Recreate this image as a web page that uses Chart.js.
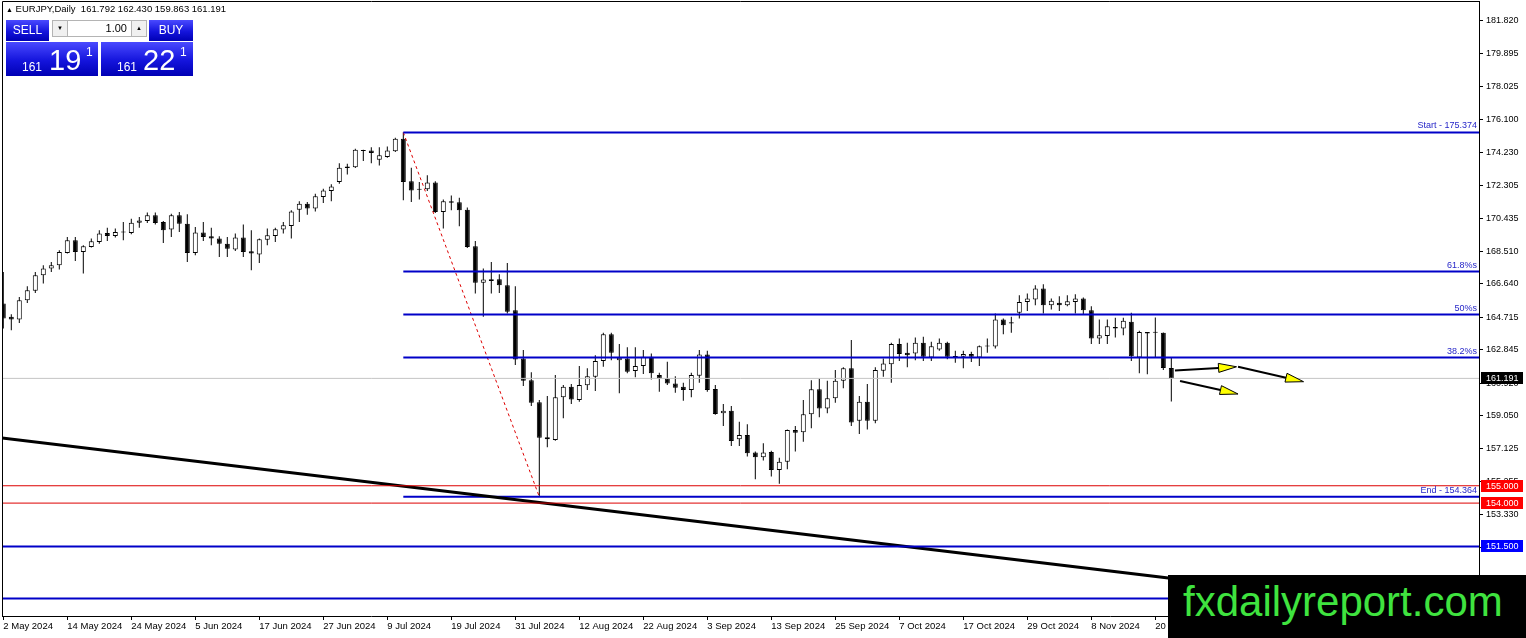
<!DOCTYPE html>
<html><head><meta charset="utf-8">
<script src="https://cdn.jsdelivr.net/npm/chart.js@4.4.1/dist/chart.umd.min.js"></script>
<style>
html,body{margin:0;padding:0;background:#fff;overflow:hidden}
#wrap{position:relative;width:1526px;height:638px;font-family:"Liberation Sans",Arial,sans-serif}
#c{position:absolute;left:0;top:0}
#hdr{position:absolute;left:6px;top:3px;font-size:9.5px;line-height:12px;color:#000;white-space:pre}
.bb{position:absolute;color:#fff;text-align:center;background:linear-gradient(#4a4aff,#1414dc 55%,#0000b4)}
.btn{font-size:12px;line-height:21px;height:21px;top:20px}
.spin{position:absolute;top:20px;width:16px;height:17px;background:#f0f0f0;border:1px solid #b4b4b4;box-sizing:border-box;font-size:6px;line-height:15px;text-align:center;color:#000}
#lot{position:absolute;left:68px;top:20px;width:63px;height:17px;background:#fff;border-top:1px solid #b4b4b4;border-bottom:1px solid #b4b4b4;box-sizing:border-box;font-size:11px;line-height:15px;text-align:right;padding-right:4px;color:#000}
.pbox{top:42px;height:34px;width:92px}
.pbox span{position:absolute;line-height:1}
.sm{font-size:12px;top:19px}
.bg{font-size:29px;top:4px}
.sp{font-size:12px;top:4px}
#logo{position:absolute;left:1168px;top:575px;width:358px;height:63px;background:#000;overflow:hidden}
#logo span{position:absolute;left:15px;top:6px;font-size:42px;line-height:42px;color:#3fe33f;white-space:nowrap}
</style></head><body>
<div id="wrap">
<canvas id="c" width="1526" height="638"></canvas>
<div id="hdr"><span style="font-size:7px">▲</span> EURJPY,Daily  161.792 162.430 159.863 161.191</div>
<div class="bb btn" style="left:6px;width:43px">SELL</div>
<div class="spin" style="left:52px">▼</div>
<div id="lot">1.00</div>
<div class="spin" style="left:131px">▲</div>
<div class="bb btn" style="left:149px;width:44px">BUY</div>
<div class="bb pbox" style="left:6px"><span class="sm" style="left:16px">161</span><span class="bg" style="left:43px">19</span><span class="sp" style="left:80px">1</span></div>
<div class="bb pbox" style="left:101px"><span class="sm" style="left:16px">161</span><span class="bg" style="left:42px">22</span><span class="sp" style="left:79px">1</span></div>
<div id="logo"><span>fxdailyreport.com</span></div>
</div>
<script>
// ---- Daily candles EURJPY (2 May 2024 .. 22 Nov 2024) ----
const opens = [165.51,164.74,164.59,165.70,166.24,167.14,167.52,167.71,168.42,169.15,
168.48,168.77,169.06,169.57,169.40,169.60,169.57,170.17,170.26,170.59,
170.21,169.77,170.59,170.11,168.42,169.60,169.38,169.25,168.96,168.62,
169.31,168.52,168.33,169.19,169.40,169.77,169.98,170.92,171.26,170.98,
171.65,172.00,172.51,173.41,173.37,174.35,174.33,173.80,173.95,174.29,
175.01,172.55,172.13,172.09,172.48,170.78,171.40,171.34,170.92,168.81,
166.70,166.91,166.91,166.56,165.12,162.34,161.09,159.81,157.79,157.64,
160.10,160.71,159.94,160.79,161.28,162.19,163.74,162.24,162.34,161.61,
161.90,162.44,161.38,161.19,160.90,160.71,160.52,161.34,162.57,160.58,
159.18,159.33,157.68,157.93,156.91,156.64,156.95,155.91,156.39,158.21,
158.08,159.12,160.56,159.46,160.04,161.05,161.77,158.75,159.84,158.75,
161.63,162.01,163.17,162.67,162.63,163.25,162.40,162.86,163.24,162.48,
162.44,162.59,162.40,163.05,163.03,164.59,164.42,164.97,165.60,165.74,
166.37,165.41,165.55,165.41,165.60,165.80,165.12,163.49,163.64,164.16,
164.07,164.45,162.40,163.86,163.82,163.82,161.792];
const highs = [167.33,164.89,165.89,166.50,167.33,167.71,167.90,168.58,169.34,169.34,
168.87,169.25,169.73,169.88,169.83,170.21,170.40,170.49,170.75,170.75,
170.26,170.69,170.78,170.65,169.92,170.21,169.88,169.38,169.34,169.54,
170.07,169.73,169.25,169.83,169.88,170.21,170.88,171.40,171.36,171.84,
172.13,172.38,173.60,173.57,174.43,174.37,174.52,174.52,174.56,175.07,
175.374,173.34,172.51,172.90,172.55,171.50,171.74,171.61,171.04,169.11,
167.52,167.90,167.20,167.85,166.51,162.82,161.54,159.94,160.17,161.38,
160.81,160.86,161.90,161.77,162.53,163.82,163.82,163.17,162.98,162.98,
162.82,162.63,161.52,162.15,161.32,160.94,161.52,162.82,162.78,160.81,
159.71,159.60,158.69,158.54,156.97,157.45,157.02,156.62,158.25,158.44,
159.94,161.09,161.19,161.05,161.67,161.83,163.40,160.17,160.86,161.83,
162.34,163.25,163.49,163.25,163.55,163.59,163.30,163.49,163.30,162.78,
162.78,162.72,163.08,163.49,164.93,164.65,164.74,165.99,166.08,166.56,
166.62,165.80,165.93,165.99,166.04,165.86,165.35,164.59,164.59,164.68,
164.68,164.97,163.93,163.87,164.70,163.84,162.430];
const lows = [164.07,163.97,164.39,165.54,166.12,166.66,167.33,167.47,168.39,167.96,
167.24,168.73,168.96,169.11,169.31,169.15,169.50,169.88,170.15,170.07,
169.00,169.34,169.63,167.90,168.29,169.11,168.87,168.19,168.19,168.54,
168.19,167.43,167.85,168.87,169.05,169.54,169.25,170.21,170.63,170.82,
171.30,171.40,172.42,172.95,173.32,173.72,173.60,173.47,173.91,174.24,
171.46,171.36,171.50,171.99,170.72,169.83,170.88,169.96,168.71,166.08,
164.74,166.08,166.12,164.93,161.96,160.75,159.60,154.364,157.22,157.60,
158.89,159.71,159.84,160.52,160.47,161.86,162.24,160.33,161.48,161.25,
161.44,161.13,160.42,160.81,160.36,159.90,160.10,160.94,160.42,159.10,
158.44,157.29,157.29,156.68,155.38,156.45,155.53,155.11,155.95,156.97,
157.54,158.31,158.95,159.18,159.79,160.62,158.45,157.98,158.25,158.60,
161.28,160.94,162.20,161.83,162.24,162.20,162.20,162.78,162.29,162.09,
161.77,162.14,161.90,162.67,162.92,163.74,163.82,164.65,165.08,165.41,
164.93,165.16,165.08,165.35,164.93,164.89,163.17,163.17,163.17,163.55,
163.68,162.20,161.48,161.43,162.40,161.67,159.863];
const closes = [164.64,164.59,165.70,166.27,167.14,167.52,167.71,168.48,169.15,168.48,
168.81,169.10,169.54,169.40,169.63,169.62,170.17,170.30,170.59,170.15,
169.73,170.59,170.11,168.42,169.60,169.34,169.25,168.96,168.67,169.31,
168.48,168.39,169.21,169.44,169.79,170.02,170.82,171.26,170.98,171.69,
172.03,172.26,173.34,173.32,174.37,174.30,174.18,174.05,174.33,175.01,
172.51,172.03,172.07,172.48,170.78,171.40,171.32,170.88,168.77,166.70,
166.89,166.81,166.56,165.03,162.28,161.05,159.79,157.77,157.68,160.10,
160.71,159.98,160.81,161.32,162.19,163.74,162.67,162.38,161.57,161.90,
162.44,161.48,161.19,160.90,160.65,160.52,161.38,162.57,160.52,159.14,
159.33,157.58,157.93,156.87,156.64,156.91,155.91,156.39,158.21,158.06,
159.12,160.56,159.46,160.04,161.05,161.77,158.64,159.84,158.75,161.67,
162.05,163.17,162.59,162.53,163.25,162.44,163.05,163.24,162.44,162.40,
162.59,162.44,163.05,163.03,164.59,164.26,164.36,165.60,165.80,166.37,
165.41,165.66,165.41,165.64,165.80,165.12,163.49,163.68,164.20,164.07,
164.51,162.47,163.87,163.78,163.82,161.79,161.191];

// ---- axis labels ----
const xTickBars = [0,8,16,24,32,40,48,56,64,72,80,88,96,104,112,120,128,136,144];
const xTickLabels = ['2 May 2024','14 May 2024','24 May 2024','5 Jun 2024','17 Jun 2024','27 Jun 2024','9 Jul 2024','19 Jul 2024','31 Jul 2024','12 Aug 2024','22 Aug 2024','3 Sep 2024','13 Sep 2024','25 Sep 2024','7 Oct 2024','17 Oct 2024','29 Oct 2024','8 Nov 2024','20 Nov 2024'];
const yTickValues = [181.820,179.895,178.025,176.100,174.230,172.305,170.435,168.510,166.640,164.715,162.845,160.920,159.050,157.125,155.255,153.330,151.460,149.535];

// ---- drawn objects ----
const fibStartBar = 50, fibEndBar = 67;
const fibLevels = [175.374,167.348,164.869,162.390,154.364];
const fibLabels = ['Start - 175.374','61.8%s','50%s','38.2%s','End - 154.364'];
const redLevels = [155.000,154.000];
const blueLevels = [151.500,148.500];
const lastPrice = 161.191;
const trendFrom = 157.75, trendTo = 147.53;
const arrowFromBar = [146.46,154.34,147.09];
const arrowFromPrice = [161.64,161.86,161.04];
const arrowToBar = [154.15,162.53,154.34];
const arrowToPrice = [161.86,161.00,160.29];
const axisBoxes = [[161.191,'#000000'],[155.000,'#ff0000'],[154.000,'#ff0000'],[151.500,'#0000ff']];

const xMin = -0.1625, xMax = 184.46, yMin = 147.49, yMax = 182.95;
const FONT = '"Liberation Sans", Arial, sans-serif';
Chart.defaults.font.family = FONT;

const bodyData = opens.map((o,i)=>({x:i,y:[Math.min(o,closes[i]),Math.max(o,closes[i])]}));
const wickData = highs.map((h,i)=>({x:i,y:[lows[i],h]}));
const bodyFill = opens.map((o,i)=> closes[i] >= o ? '#ffffff' : '#000000');

function lineDs(pts,color,width,dash){
  return {type:'line',data:pts,borderColor:color,borderWidth:width,borderDash:dash||[],
    pointRadius:0,fill:false,tension:0,order:0};
}
const datasets = [];
datasets.push(lineDs([{x:xMin,y:lastPrice},{x:xMax,y:lastPrice}],'#c4c4c4',1));
redLevels.forEach(v=>datasets.push(lineDs([{x:xMin,y:v},{x:xMax,y:v}],'#dd0000',1)));
blueLevels.forEach(v=>datasets.push(lineDs([{x:xMin,y:v},{x:xMax,y:v}],'#0000c8',2)));
datasets.push(lineDs([{x:xMin,y:trendFrom},{x:xMax,y:trendTo}],'#000000',3));
fibLevels.forEach(v=>datasets.push(lineDs([{x:fibStartBar,y:v},{x:xMax,y:v}],'#0000c8',2)));
datasets.push(lineDs([{x:fibStartBar,y:fibLevels[0]},{x:fibEndBar,y:fibLevels[4]}],'#dd0000',1,[3,3]));
datasets.push({type:'bar',data:bodyData,backgroundColor:bodyFill,borderColor:'#000',borderWidth:1,
  borderSkipped:false,barThickness:5,minBarLength:1,grouped:false,inflateAmount:0,order:1});
datasets.push({type:'bar',data:wickData,backgroundColor:'#000',borderWidth:0,
  barThickness:1,grouped:false,inflateAmount:0,order:2});

const overlay = {
  id:'overlay',
  afterDraw(chart){
    const {ctx, chartArea:a, scales:{x,y}} = chart;
    ctx.save();
    ctx.strokeStyle='#000'; ctx.lineWidth=1;
    ctx.beginPath(); ctx.moveTo(a.left+0.5,a.bottom); ctx.lineTo(a.left+0.5,a.top+0.5); ctx.lineTo(a.right,a.top+0.5); ctx.stroke();
    // fib labels
    ctx.font='9px '+FONT; ctx.fillStyle='#2626c8'; ctx.textAlign='right'; ctx.textBaseline='bottom';
    fibLevels.forEach((v,k)=>ctx.fillText(fibLabels[k], a.right-2, y.getPixelForValue(v)-2));
    // arrows
    for(let k=0;k<arrowFromBar.length;k++){
      const x0=x.getPixelForValue(arrowFromBar[k]), y0=y.getPixelForValue(arrowFromPrice[k]);
      const x1=x.getPixelForValue(arrowToBar[k]), y1=y.getPixelForValue(arrowToPrice[k]);
      const dx=x1-x0, dy=y1-y0, L=Math.hypot(dx,dy), ux=dx/L, uy=dy/L, hl=18, hw=4.5;
      const bx=x1-ux*hl, by=y1-uy*hl;
      ctx.strokeStyle='#000'; ctx.lineWidth=2;
      ctx.beginPath(); ctx.moveTo(x0,y0); ctx.lineTo(bx,by); ctx.stroke();
      ctx.beginPath(); ctx.moveTo(x1,y1); ctx.lineTo(bx-uy*hw,by+ux*hw); ctx.lineTo(bx+uy*hw,by-ux*hw); ctx.closePath();
      ctx.fillStyle='#ffff00'; ctx.fill(); ctx.lineWidth=1; ctx.stroke();
    }
    // right axis price boxes
    ctx.font='9px '+FONT; ctx.textAlign='left'; ctx.textBaseline='middle';
    axisBoxes.forEach(([v,c])=>{
      const py=y.getPixelForValue(v);
      ctx.fillStyle=c; ctx.fillRect(a.right+2, Math.round(py)-6, 42, 12);
      ctx.fillStyle='#fff'; ctx.fillText(v.toFixed(3), a.right+7, py+0.5);
    });
    ctx.restore();
  }
};

new Chart(document.getElementById('c'), {
  type:'bar',
  data:{datasets},
  options:{
    responsive:false, maintainAspectRatio:false, animation:false, events:[],
    layout:{padding:{left:2,top:1,right:0,bottom:0}},
    plugins:{legend:{display:false},tooltip:{enabled:false}},
    scales:{
      x:{type:'linear',min:xMin,max:xMax,offset:false,position:'bottom',
        afterBuildTicks:(ax)=>{ax.ticks=xTickBars.map(v=>({value:v}));},
        afterFit:(ax)=>{ax.height=22;ax.paddingLeft=0;ax.paddingRight=0;},
        grid:{drawOnChartArea:false,drawTicks:true,tickLength:4,color:'#000',offset:false},
        border:{display:true,color:'#000',width:1},
        ticks:{autoSkip:false,maxRotation:0,minRotation:0,align:'start',padding:1,color:'#000',
          font:{size:9.5,family:FONT},callback:(v,i)=>xTickLabels[i]}},
      y:{type:'linear',min:yMin,max:yMax,position:'right',
        afterBuildTicks:(ax)=>{ax.ticks=yTickValues.map(v=>({value:v}));},
        afterFit:(ax)=>{ax.width=47;ax.paddingTop=0;ax.paddingBottom=0;},
        grid:{drawOnChartArea:false,drawTicks:true,tickLength:4,color:'#000'},
        border:{display:true,color:'#000',width:1},
        ticks:{autoSkip:false,padding:3,color:'#000',font:{size:9,family:FONT},
          callback:(v)=>Number(v).toFixed(3)}}
    }
  },
  plugins:[overlay]
});
</script>
</body></html>
